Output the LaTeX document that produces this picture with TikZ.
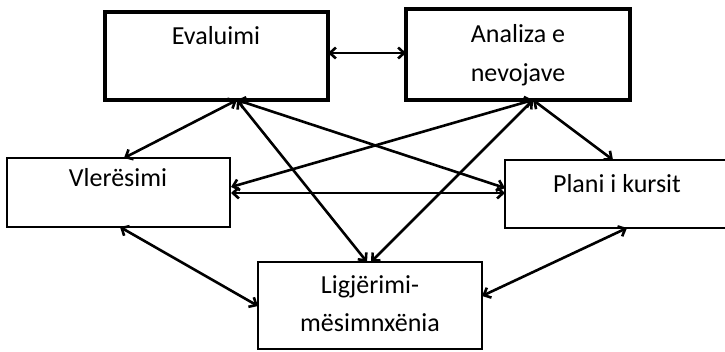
\documentclass[tikz,border=0pt]{standalone}
\usepackage{fontspec}
\setmainfont{Carlito}
\usetikzlibrary{arrows.meta}
\begin{document}
\begin{tikzpicture}[x=1pt,y=-1pt,
  thickbox/.style={draw=black,line width=3.2pt},
  thinbox/.style={draw=black,line width=2pt},
  lbl/.style={anchor=base,inner sep=0pt,font=\fontsize{26}{39}\selectfont,align=center},
  tip/.style={Straight Barb[length=6pt,width=11pt,line width=2.6pt]},
  link/.style={line width=2.6pt,{Straight Barb[length=6pt,width=11pt,line width=2.6pt]}-{Straight Barb[length=6pt,width=11pt,line width=2.6pt]}}]
\useasboundingbox (0,0) rectangle (725,352);
\begin{scope}
\clip (0,0) rectangle (725,352);
% boxes
\draw[thickbox] (105,12) rectangle (328,100);
\draw[thickbox] (406,9) rectangle (630,100);
\draw[thinbox] (7,158) rectangle (230,227);
\draw[thinbox] (505,160) rectangle (729,228);
\draw[thinbox] (258,262) rectangle (482,349);
\end{scope}
\node[lbl] (tev) at (216,45) {Evaluimi};
\node[lbl] (tan) at (518,82) {Analiza e\\nevojave};
\node[lbl] (tvl) at (118,187) {Vlerësimi};
\node[lbl] (tpl) at (617,193) {Plani i kursit};
\node[lbl] (tli) at (370,332) {Ligjërimi-\\mësimnxënia};
% connector ends
\coordinate (evE) at (328,53);
\coordinate (anW) at (406,53);
\coordinate (evH) at (237,100);
\coordinate (anH) at (533,100);
\coordinate (vlT) at (124,158);
\coordinate (vlR) at (231,187);
\coordinate (vlR2) at (231,193);
\coordinate (vlB) at (120,227);
\coordinate (plL) at (505,188);
\coordinate (plL2) at (505,193);
\coordinate (plT) at (613,160);
\coordinate (plB) at (627,228);
\coordinate (liT1) at (367,262);
\coordinate (liT2) at (371,262);
\coordinate (liL) at (258,306);
\coordinate (liR) at (482,296);
% connectors
\draw[link] (evE) -- (anW);
\draw[link] (evH) -- (vlT);
\draw[link] (evH) -- (liT1);
\draw[link] (evH) -- (plL);
\draw[link] (anH) -- (vlR);
\draw[link] (anH) -- (liT2);
\draw[link] (anH) -- (plT);
\draw[link] (vlR2) -- (plL2);
\draw[link] (vlB) -- (liL);
\draw[link] (plB) -- (liR);
\end{tikzpicture}
\end{document}
